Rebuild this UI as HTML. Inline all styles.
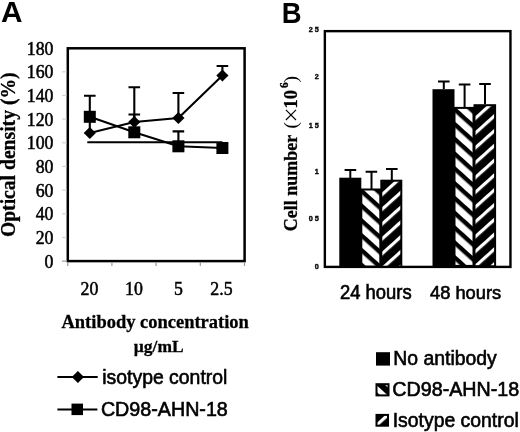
<!DOCTYPE html>
<html><head><meta charset="utf-8"><style>
html,body{margin:0;padding:0;background:#fff;width:520px;height:432px;overflow:hidden}
svg{display:block;filter:grayscale(1)}
.th{stroke:#000;stroke-width:0.5}
.th2{stroke:#000;stroke-width:0.3}
.th3{stroke:#000;stroke-width:0.6}
.serif{font-family:"Liberation Serif",serif}
.sans{font-family:"Liberation Sans",sans-serif}
</style></head><body>
<svg width="520" height="432" viewBox="0 0 520 432">
<defs>
<pattern id="pc1" patternUnits="userSpaceOnUse" width="60" height="11.0" patternTransform="translate(381.00,205.64) rotate(42.0)"><rect width="60" height="11.0" fill="#fff"/><rect width="60" height="4.4" fill="#000"/></pattern>
<pattern id="pi1" patternUnits="userSpaceOnUse" width="60" height="11.0" patternTransform="translate(381.00,208.15) rotate(-42.0)"><rect width="60" height="11.0" fill="#000"/><rect width="60" height="3.2" fill="#fff"/></pattern>
<pattern id="pc2" patternUnits="userSpaceOnUse" width="60" height="11.0" patternTransform="translate(474.00,123.94) rotate(42.0)"><rect width="60" height="11.0" fill="#fff"/><rect width="60" height="4.4" fill="#000"/></pattern>
<pattern id="pi2" patternUnits="userSpaceOnUse" width="60" height="11.0" patternTransform="translate(474.00,132.15) rotate(-42.0)"><rect width="60" height="11.0" fill="#000"/><rect width="60" height="3.2" fill="#fff"/></pattern>
<pattern id="pcl" patternUnits="userSpaceOnUse" width="60" height="11.0" patternTransform="translate(382.50,382.53) rotate(42.0)"><rect width="60" height="11.0" fill="#fff"/><rect width="60" height="6.0" fill="#000"/></pattern>
<pattern id="pil" patternUnits="userSpaceOnUse" width="60" height="11.0" patternTransform="translate(382.00,418.15) rotate(-42.0)"><rect width="60" height="11.0" fill="#000"/><rect width="60" height="3.2" fill="#fff"/></pattern>
</defs>

<!-- Panel labels -->
<g transform="translate(0.9,21.75)"><text class="sans" font-weight="bold" font-size="29.8" x="0" y="0">A</text></g>
<g transform="translate(281.7,22.85) scale(0.92,1.02)"><text class="sans" font-weight="bold" font-size="29.8" x="0" y="0">B</text></g>

<!-- ===== Chart A ===== -->
<g fill="none" stroke="#000" stroke-width="2.5">
<rect x="67.8" y="48.3" width="176.8" height="212.8"/>
</g>
<g stroke="#999" stroke-width="1.2">
<line x1="62" y1="261.10" x2="66.5" y2="261.10"/>
<line x1="62" y1="237.44" x2="66.5" y2="237.44" stroke="#d4d4d4"/>
<line x1="62" y1="213.78" x2="66.5" y2="213.78" stroke="#d4d4d4"/>
<line x1="62" y1="190.12" x2="66.5" y2="190.12" stroke="#d4d4d4"/>
<line x1="62" y1="166.46" x2="66.5" y2="166.46" stroke="#d4d4d4"/>
<line x1="62" y1="142.80" x2="66.5" y2="142.80" stroke="#d4d4d4"/>
<line x1="62" y1="119.14" x2="66.5" y2="119.14" stroke="#d4d4d4"/>
<line x1="62" y1="95.48" x2="66.5" y2="95.48" stroke="#d4d4d4"/>
<line x1="62" y1="71.82" x2="66.5" y2="71.82" stroke="#d4d4d4"/>
<line x1="67.8" y1="262" x2="67.8" y2="266"/>
<line x1="111.9" y1="262" x2="111.9" y2="266"/>
<line x1="156.1" y1="262" x2="156.1" y2="266"/>
<line x1="200.3" y1="262" x2="200.3" y2="266"/>
<line x1="244.5" y1="262" x2="244.5" y2="266"/>
</g>
<g class="serif th" font-size="17.8" text-anchor="end">
<g transform="translate(53.5,54.6) scale(1,1.06)"><text>180</text></g>
<g transform="translate(53.5,78.3) scale(1,1.06)"><text>160</text></g>
<g transform="translate(53.5,101.9) scale(1,1.06)"><text>140</text></g>
<g transform="translate(53.5,125.6) scale(1,1.06)"><text>120</text></g>
<g transform="translate(53.5,149.3) scale(1,1.06)"><text>100</text></g>
<g transform="translate(53.5,172.9) scale(1,1.06)"><text>80</text></g>
<g transform="translate(53.5,196.6) scale(1,1.06)"><text>60</text></g>
<g transform="translate(53.5,220.3) scale(1,1.06)"><text>40</text></g>
<g transform="translate(53.5,244.0) scale(1,1.06)"><text>20</text></g>
<g transform="translate(53.5,267.6) scale(1,1.06)"><text>0</text></g>
</g>
<g class="serif th" font-size="17.8" text-anchor="middle">
<g transform="translate(89.4,294.6) scale(1,1.06)"><text>20</text></g>
<g transform="translate(134,294.6) scale(1,1.06)"><text>10</text></g>
<g transform="translate(178.4,294.6) scale(1,1.06)"><text>5</text></g>
<g transform="translate(221.4,294.6) scale(1,1.06)"><text>2.5</text></g>
</g>
<g transform="translate(14.8,237.1) rotate(-90) scale(0.982,1)"><text class="serif th2" font-weight="bold" font-size="20" x="0" y="0">Optical density (%)</text></g>
<g transform="translate(61.5,327.5) scale(0.963,1)"><text class="serif th2" font-weight="bold" font-size="19.2" x="0" y="0">Antibody concentration</text></g>
<g transform="translate(133.8,352.1) scale(1.025,1)"><text class="serif th2" font-weight="bold" font-size="17">µg/mL</text></g>

<!-- series lines -->
<g fill="none" stroke="#000" stroke-width="2.1">
<polyline points="87.3,142.3 222.4,142.3"/>
<polyline points="89.8,133.0 134.3,122.0 178.4,118.0 222.4,75.5"/>
<polyline points="89.8,116.8 134.3,132.3 178.4,146.3 222.4,148.0"/>
<path d="M89.8,133.0V95.7M84.00,95.7H95.60"/>
<path d="M134.3,122.0V87.2M128.50,87.2H140.10"/>
<path d="M134.3,132.3V114.5M128.50,114.5H140.10"/>
<path d="M178.4,118.0V93.0M172.60,93.0H184.20"/>
<path d="M178.4,146.3V131.4M172.60,131.4H184.20"/>
<path d="M222.4,75.5V66.0M216.60,66.0H228.20"/>
</g><g fill="#000">
<rect x="83.80" y="110.80" width="12.0" height="12.0"/>
<rect x="128.30" y="126.30" width="12.0" height="12.0"/>
<rect x="172.40" y="140.30" width="12.0" height="12.0"/>
<rect x="216.40" y="142.00" width="12.0" height="12.0"/>
<path d="M89.8,126.90L95.90,133.0L89.8,139.10L83.70,133.0Z"/>
<path d="M134.3,115.90L140.40,122.0L134.3,128.10L128.20,122.0Z"/>
<path d="M178.4,111.90L184.50,118.0L178.4,124.10L172.30,118.0Z"/>
<path d="M222.4,69.40L228.50,75.5L222.4,81.60L216.30,75.5Z"/>
</g>

<!-- legend A -->
<g stroke="#000" stroke-width="2">
<line x1="57.4" y1="377" x2="97.7" y2="377"/>
<line x1="57.4" y1="409.5" x2="97.4" y2="409.5"/>
</g>
<path d="M77.9,370.9L84,377L77.9,383.1L71.8,377Z" fill="#000"/>
<rect x="71.5" y="403.6" width="11.5" height="11.5" fill="#000"/>
<text class="sans th3" font-size="19.4" x="102.3" y="383.5">isotype control</text>
<text class="sans th3" font-size="19.7" x="100.9" y="415.5">CD98-AHN-18</text>

<!-- ===== Chart B ===== -->
<rect x="324.85" y="31.15" width="185.6" height="235.75" fill="none" stroke="#000" stroke-width="2.4"/>
<g class="sans th" font-weight="bold" font-size="7.3" text-anchor="end" style="stroke-width:0.35">
<text x="318.8" y="32.3">2 5</text>
<text x="318.8" y="79.4">2</text>
<text x="318.8" y="127.6">1 5</text>
<text x="318.8" y="174">1</text>
<text x="318.8" y="221.3">0 5</text>
<text x="318.8" y="268.5">0</text>
</g>
<g transform="translate(296.5,230.6) rotate(-90)" class="serif">
<text class="th2" font-weight="bold" font-size="18" x="-0.6" y="0">Cell number</text>
<text font-size="19.5" x="102" y="0">(</text>
<text class="th2" font-weight="bold" font-size="18.5" x="122" y="0">10</text>
<text class="th2" font-weight="bold" font-size="11.5" x="142.6" y="-8.1">6</text>
<text font-size="19.5" x="148" y="0">)</text>
</g>

<path d="M285.9,109.9L296,120M285.9,120L296,109.9" stroke="#000" stroke-width="1.15" fill="none"/>
<!-- bars -->
<g stroke="#000" stroke-width="2">
<rect x="340.3" y="178.7" width="20" height="88" fill="#000"/>
<rect x="361.3" y="189.5" width="19" height="77" fill="url(#pc1)"/>
<rect x="381.3" y="180.7" width="20" height="86" fill="url(#pi1)"/>
<rect x="433.5" y="90.2" width="20" height="176" fill="#000"/>
<rect x="454.5" y="107.9" width="19" height="158" fill="url(#pc2)"/>
<rect x="474.5" y="105.2" width="20.6" height="161" fill="url(#pi2)"/>
</g>
<g fill="none" stroke="#000" stroke-width="2">
<path d="M350.3,178V170M344.6,170H356.2"/>
<path d="M371.5,189V171.7M365.6,171.7H377.2"/>
<path d="M391.8,180V169M386,169H397.6"/>
<path d="M443.8,89V81.4M438,81.4H449.6"/>
<path d="M464.6,107V84.6M458.8,84.6H470.4"/>
<path d="M485,104V84M479.2,84H490.8"/>
</g>
<g transform="translate(340,299.2) scale(1,1.05)"><text class="sans th3" font-size="18.4">24 hours</text></g>
<g transform="translate(430,298.9) scale(1,1.05)"><text class="sans th3" font-size="18.3">48 hours</text></g>

<!-- legend B -->
<rect x="376" y="352.2" width="14" height="13.4" fill="#000"/>
<rect x="376.5" y="384.2" width="12" height="11.2" fill="url(#pcl)" stroke="#000" stroke-width="2"/>
<rect x="376.5" y="414.9" width="11.5" height="10.8" fill="url(#pil)" stroke="#000" stroke-width="2"/>
<text class="sans th3" font-size="19.4" x="393.3" y="365.4">No antibody</text>
<text class="sans th3" font-size="19.7" x="392.3" y="396.1">CD98-AHN-18</text>
<text class="sans th3" font-size="19.4" x="392.7" y="426.7">Isotype control</text>
</svg>
</body></html>
